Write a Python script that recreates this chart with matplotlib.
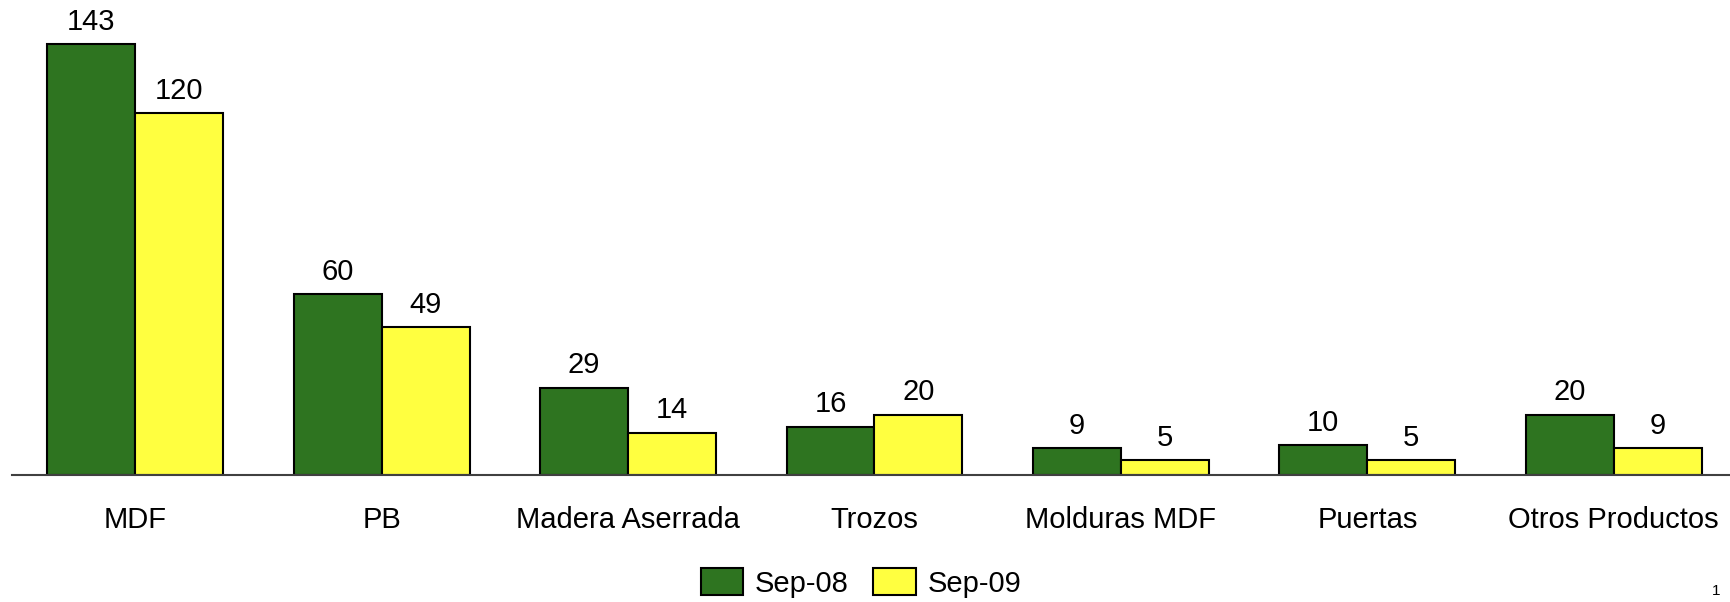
import matplotlib
matplotlib.use("Agg")
import matplotlib.pyplot as plt
import numpy as np

categories = ["MDF", "PB", "Madera Aserrada", "Trozos", "Molduras MDF", "Puertas", "Otros Productos"]
series_names = ["Sep-08", "Sep-09"]
sep08 = [143, 60, 29, 16, 9, 10, 20]
sep09 = [120, 49, 14, 20, 5, 5, 9]

colors = ["#2E7420", "#FFFF40"]

plt.rcParams['font.family'] = ['Liberation Sans', 'DejaVu Sans']

W, H = 1731, 602
FS = 21
fig = plt.figure(figsize=(W / 100, H / 100), dpi=100)
x0 = 12 / W
x1 = 1737 / W
ax = fig.add_axes([x0, 127 / H, x1 - x0, 1 - 127 / H])

x = np.arange(len(categories))
bw = 0.357
b1 = ax.bar(x - bw / 2, sep08, bw, color=colors[0], edgecolor="black", linewidth=1.5, label=series_names[0])
b2 = ax.bar(x + bw / 2, sep09, bw, color=colors[1], edgecolor="black", linewidth=1.5, label=series_names[1])

for bars, vals in ((b1, sep08), (b2, sep09)):
    for rect, v in zip(bars, vals):
        ax.annotate(f"{v}", (rect.get_x() + rect.get_width() / 2, rect.get_height()),
                    xytext=(0, 6), textcoords="offset points", ha="center", va="bottom",
                    fontsize=FS)

ax.set_xlim(-0.5, 6.5)
ax.set_ylim(0, 157.6)
ax.set_xticks(x)
ax.set_xticklabels(categories, fontsize=FS)
ax.tick_params(axis="x", length=0, pad=22)
ax.set_yticks([])
for s in ("top", "right", "left"):
    ax.spines[s].set_visible(False)
ax.spines["bottom"].set_color("#404040")
ax.spines["bottom"].set_linewidth(1.5)
ax.set_facecolor("none")

fig.legend(handles=[b1, b2], labels=series_names, loc="center", bbox_to_anchor=(861 / W, 1 - 583 / H),
           ncol=2, frameon=False, fontsize=FS, handlelength=1.45, handleheight=1.05,
           handletextpad=0.4, columnspacing=0.85, borderpad=0.2)

fig.text(1716 / W, 1 - 591 / H, "1", fontsize=11, ha="center", va="center")

fig.savefig("out.png", dpi=100)
